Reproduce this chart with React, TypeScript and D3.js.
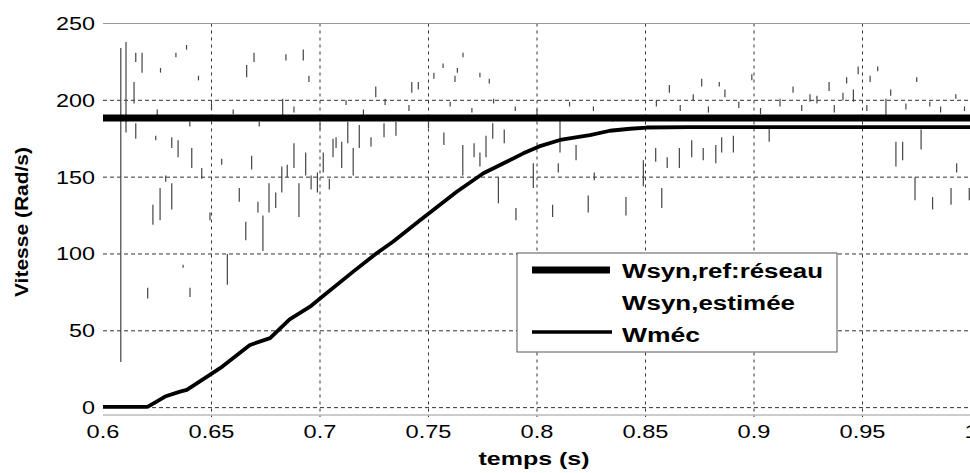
import React from "react";
import * as d3 from "d3";

const W = 970;
const H = 473;

// Axis ticks
const xTicks = [0.6, 0.65, 0.7, 0.75, 0.8, 0.85, 0.9, 0.95, 1];
const xTickLabels = ["0.6", "0.65", "0.7", "0.75", "0.8", "0.85", "0.9", "0.95", "1"];
const yTicks = [0, 50, 100, 150, 200, 250];
const yTickLabels = ["0", "50", "100", "150", "200", "250"];

// Series names
const seriesNames = ["Wsyn,ref:réseau", "Wsyn,estimée", "Wméc"];

// Wsyn,ref:réseau (constant reference)
const refT = [0.6, 1.0];
const refV = [188.5, 188.5];

// Wméc (mechanical speed)
const mecT = [0.6, 0.62, 0.6207, 0.6247, 0.6286, 0.6355, 0.6386, 0.648, 0.655, 0.6677, 0.677, 0.686, 0.6954, 0.7, 0.7153, 0.7261, 0.7336, 0.7461, 0.763, 0.7753, 0.786, 0.7937, 0.801, 0.8106, 0.8244, 0.8336, 0.8429, 0.8505, 0.87, 0.9, 0.95, 1.0];
const mecV = [0.5, 0.5, 0.6, 3.9, 7.2, 10.4, 11.5, 20.2, 26.7, 40.8, 45.2, 57.5, 65.7, 71, 88.5, 100.5, 108, 122, 140.5, 152.5, 160, 165.5, 170, 174.2, 177.4, 180.2, 181.5, 182.3, 182.5, 182.6, 182.6, 182.6];

// Wsyn,estimée: noisy estimate, read as spikes [time, low, high]
const estT = [0.6082, 0.6106, 0.6143, 0.6151, 0.6151, 0.618, 0.6206, 0.623, 0.6243, 0.6263, 0.6289, 0.6317, 0.6317, 0.6336, 0.6346, 0.6369, 0.6401, 0.6409, 0.6455, 0.6493, 0.6547, 0.6573, 0.6628, 0.6658, 0.6662, 0.6685, 0.6696, 0.6714, 0.6737, 0.6765, 0.6796, 0.6824, 0.6828, 0.6843, 0.6849, 0.688, 0.6903, 0.6923, 0.6934, 0.6949, 0.6959, 0.6988, 0.7015, 0.7043, 0.706, 0.7074, 0.71, 0.7128, 0.7153, 0.7181, 0.7235, 0.7257, 0.7295, 0.735, 0.7423, 0.7453, 0.7571, 0.7622, 0.7658, 0.7659, 0.771, 0.7737, 0.7765, 0.7796, 0.7822, 0.7849, 0.7903, 0.7983, 0.8072, 0.8098, 0.8106, 0.818, 0.8236, 0.8264, 0.841, 0.849, 0.8547, 0.8575, 0.86, 0.8656, 0.8713, 0.8759, 0.8766, 0.8824, 0.8851, 0.8866, 0.8905, 0.907, 0.9258, 0.9346, 0.9427, 0.9458, 0.9535, 0.9608, 0.9654, 0.9685, 0.9742, 0.977, 0.9823, 0.9908, 0.9934, 0.9992,
  0.855, 0.861, 0.866, 0.872, 0.879, 0.884, 0.893, 0.899, 0.903, 0.912, 0.918, 0.922, 0.929, 0.937, 0.941, 0.948, 0.952, 0.957, 0.963, 0.97, 0.975, 0.981, 0.986, 0.993, 0.997,
  0.625, 0.64, 0.65, 0.66, 0.672, 0.688, 0.7, 0.712, 0.72, 0.73, 0.741, 0.75, 0.76, 0.77, 0.78, 0.79, 0.8, 0.815, 0.826, 0.835,
  0.7525, 0.7567, 0.7633, 0.7737, 0.778, 0.6265, 0.6385, 0.644];
const estLo = [29.7, 179, 198, 175, 225, 218, 71, 119, 174, 122, 147, 129, 169, 228, 163, 91, 72, 156, 149, 122, 158, 80, 134, 109, 215, 155, 225, 127, 102, 127, 130, 140, 190, 226, 150, 156, 124, 226, 151, 212, 142, 140, 153, 142, 163, 169, 156, 172, 151, 169, 170, 202, 176, 177, 205, 207, 171, 212, 151, 228, 163, 157, 163, 175, 133, 172, 122, 143, 124, 153, 166, 161, 127, 148, 125, 144, 160, 130, 156, 156, 163, 209, 161, 159, 166, 202, 166, 173, 199, 206, 211, 199, 212, 190, 157, 161, 135, 168, 129, 132, 153, 135,
  196, 205, 193, 200, 192, 209, 195, 213, 191, 196, 205, 193, 198, 192, 200, 217, 193, 219, 203, 194, 212, 196, 192, 201, 193,
  190, 183, 194, 191, 183, 192, 181, 197, 190, 197, 193, 182, 196, 192, 198, 193, 190, 196, 193, 186,
  214, 221, 218, 215, 211, 218, 233, 213];
const estHi = [234, 238, 212, 185, 231, 231, 78, 132, 177, 143, 151, 146, 176, 231, 174, 93, 78, 169, 156, 127, 162, 100, 143, 121, 223, 164, 231, 134, 125, 146, 140, 157, 201, 230, 158, 172, 146, 233, 166, 216, 151, 153, 166, 149, 175, 176, 173, 186, 169, 184, 176, 209, 185, 186, 212, 212, 179, 216, 171, 231, 172, 166, 177, 185, 150, 181, 130, 159, 132, 159, 188, 171, 138, 153, 137, 161, 169, 143, 163, 169, 174, 214, 169, 171, 176, 207, 177, 183, 204, 212, 215, 207, 216, 201, 173, 173, 150, 181, 137, 143, 159, 143,
  200, 210, 197, 204, 196, 212, 199, 217, 195, 201, 209, 197, 203, 197, 205, 222, 197, 222, 207, 198, 215, 199, 196, 204, 196,
  194, 186, 198, 194, 186, 196, 185, 200, 194, 201, 197, 186, 199, 195, 201, 196, 194, 199, 196, 190,
  218, 224, 221, 218, 214, 221, 236, 216];

const FONT = "'Liberation Sans', Arial, sans-serif";

export default function App() {
  const x = d3.scaleLinear().domain([0.6, 1.0]).range([103, 971]);
  const y = d3.scaleLinear().domain([-4.8, 250]).range([415, 23.5]);

  const line = d3
    .line<[number, number]>()
    .x((d) => x(d[0]))
    .y((d) => y(d[1]))
    .curve(d3.curveLinear);

  const mecData = mecT.map((t, i) => [t, mecV[i]] as [number, number]);
  const refData = refT.map((t, i) => [t, refV[i]] as [number, number]);

  const x0 = x(0.6);
  const x1 = x(1.0);
  const yTop = y(250);
  const yBot = y(-4.8);

  return (
    <svg
      width={W}
      height={H}
      style={{ position: "absolute", left: 0, top: 0, background: "#fff" }}
      fontFamily={FONT}
    >
      <rect x={0} y={0} width={W} height={H} fill="#fff" />
      {/* grid */}
      {yTicks.filter((v) => v < 250).map((v) => (
        <line key={"gy" + v} x1={x0} x2={x1} y1={y(v)} y2={y(v)} stroke="#333" strokeWidth={1} strokeDasharray="4,3" />
      ))}
      {xTicks.filter((t) => t > 0.6 && t < 1).map((t) => (
        <line key={"gx" + t} x1={x(t)} x2={x(t)} y1={yTop} y2={yBot + 2} stroke="#333" strokeWidth={1} strokeDasharray="3,4" />
      ))}
      {/* frame */}
      <line x1={x0} x2={x1} y1={yTop} y2={yTop} stroke="#999" strokeWidth={1.2} />
      <line x1={x0} x2={x1} y1={yBot} y2={yBot} stroke="#999" strokeWidth={1.2} />

      {/* estimated: spikes */}
      {estT.map((t, i) => (
        <line key={"e" + i} x1={x(t)} x2={x(t)} y1={y(estLo[i])} y2={y(estHi[i])} stroke="#444" strokeWidth={1.2} />
      ))}

      {/* reference */}
      <path d={line(refData) || ""} fill="none" stroke="#000" strokeWidth={7} />
      {/* mechanical */}
      <path d={line(mecData) || ""} fill="none" stroke="#000" strokeWidth={3.8} strokeLinejoin="round" />

      {/* tick labels */}
      {yTicks.map((v, i) => (
        <text key={"yl" + v} transform={`translate(95,${y(v)}) scale(1.3,1)`} dy="0.36em" textAnchor="end" fontSize={18} fill="#000">
          {yTickLabels[i]}
        </text>
      ))}
      {xTicks.map((t, i) => (
        <text key={"xl" + t} transform={`translate(${x(t)},438) scale(1.35,1)`} textAnchor="middle" fontSize={17.5} fill="#000">
          {xTickLabels[i]}
        </text>
      ))}

      {/* axis titles */}
      <text x={534} y={465} textAnchor="middle" fontSize={19} fontWeight="bold" textLength={111} lengthAdjust="spacingAndGlyphs">
        temps (s)
      </text>
      <text
        transform="translate(28,222) rotate(-90)"
        textAnchor="middle"
        fontSize={18}
        fontWeight="bold"
        textLength={150}
        lengthAdjust="spacingAndGlyphs"
      >
        Vitesse (Rad/s)
      </text>

      {/* legend */}
      <rect x={517} y={253} width={320} height={99} fill="#fff" stroke="#555" strokeWidth={1} />
      <line x1={532} x2={610} y1={270} y2={270} stroke="#000" strokeWidth={7} />
      <line x1={532} x2={612} y1={332} y2={332} stroke="#000" strokeWidth={3.3} />
      <text x={622} y={278} fontSize={20} fontWeight="bold" textLength={201} lengthAdjust="spacingAndGlyphs">
        {seriesNames[0]}
      </text>
      <text x={622} y={310} fontSize={20} fontWeight="bold" textLength={173} lengthAdjust="spacingAndGlyphs">
        {seriesNames[1]}
      </text>
      <text x={622} y={341.5} fontSize={20} fontWeight="bold" textLength={78} lengthAdjust="spacingAndGlyphs">
        {seriesNames[2]}
      </text>
    </svg>
  );
}
